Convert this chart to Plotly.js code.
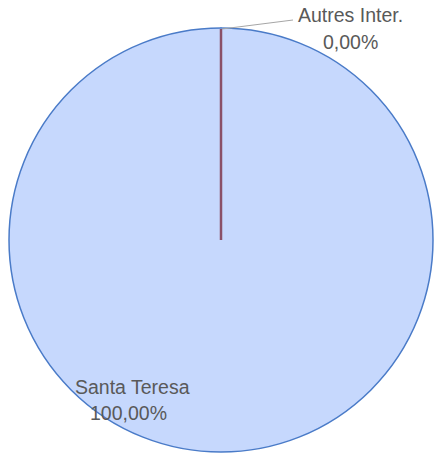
<!DOCTYPE html>
<html>
<head>
<meta charset="utf-8">
<script src="https://cdn.plot.ly/plotly-3.0.1.min.js"></script>
<style>html,body{margin:0;padding:0;background:#fff;}#chart{width:435px;height:459px;}</style>
</head>
<body>
<div id="chart"></div>
<script>
const labels = ["Autres Inter.", "Santa Teresa"];
const values = [0, 100];
const pctLabels = ["0,00%", "100,00%"];

const font = {family: "Liberation Sans, Arial, sans-serif", size: 19.5, color: "#595959"};

const trace = {
  type: "pie",
  labels: labels,
  values: values,
  sort: false,
  direction: "clockwise",
  rotation: 0,
  textinfo: "none",
  hoverinfo: "label+percent",
  showlegend: false,
  marker: {colors: ["#c0504d", "#c6d8fd"], line: {color: "#4a7bc8", width: 1.5}},
  domain: {x: [9/435, 433/435], y: [7/459, 431/459]}
};

const layout = {
  width: 435, height: 459,
  margin: {l: 0, r: 0, t: 0, b: 0},
  paper_bgcolor: "#ffffff",
  showlegend: false,
  shapes: [
    {type: "line", xref: "paper", yref: "paper", x0: 221/435, y0: 1-240/459, x1: 221/435, y1: 1-29/459,
     line: {color: "#8a5068", width: 2.5}},
    {type: "line", xref: "paper", yref: "paper", x0: 222/435, y0: 1-29/459, x1: 293/435, y1: 1-20/459,
     line: {color: "#a6a6a6", width: 1}}
  ],
  annotations: [
    {text: labels[0], x: 350/435, y: 1-15/459, xref: "paper", yref: "paper", showarrow: false, font: font, xanchor: "center", yanchor: "middle"},
    {text: pctLabels[0], x: 350/435, y: 1-42/459, xref: "paper", yref: "paper", showarrow: false, font: font, xanchor: "center", yanchor: "middle"},
    {text: labels[1], x: 132/435, y: 1-387/459, xref: "paper", yref: "paper", showarrow: false, font: font, xanchor: "center", yanchor: "middle"},
    {text: pctLabels[1], x: 128/435, y: 1-413/459, xref: "paper", yref: "paper", showarrow: false, font: font, xanchor: "center", yanchor: "middle"}
  ]
};

Plotly.newPlot("chart", [trace], layout, {displayModeBar: false, staticPlot: true});
</script>
</body>
</html>
